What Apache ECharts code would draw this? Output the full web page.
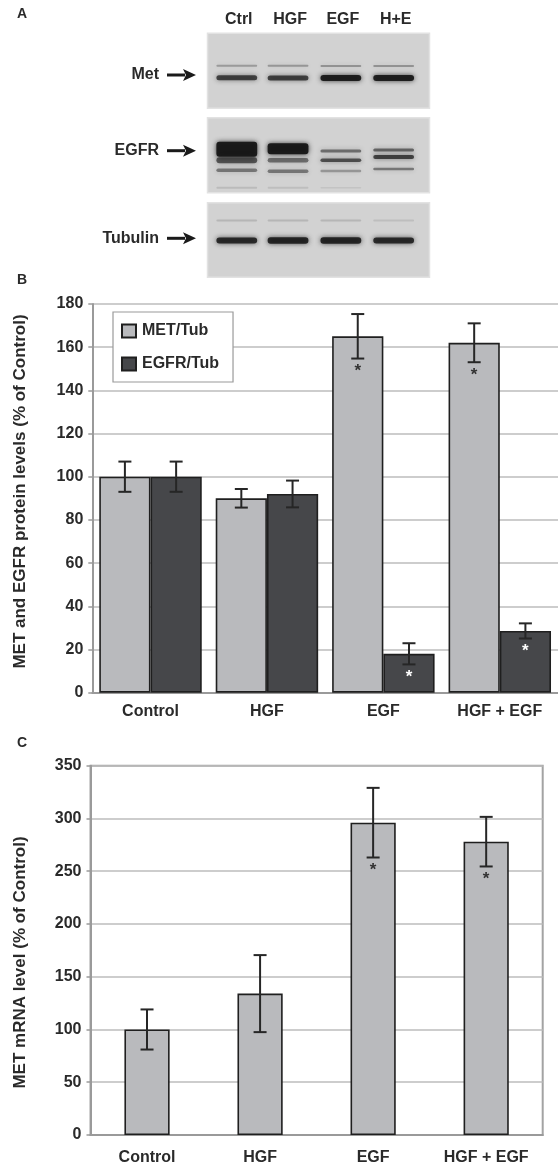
<!DOCTYPE html>
<html>
<head>
<meta charset="utf-8">
<script src="https://cdn.jsdelivr.net/npm/echarts@6/dist/echarts.min.js"></script>
<style>
html,body{margin:0;padding:0;background:#fff;}
#chart{width:558px;height:1166px;}
</style>
</head>
<body>
<div id="chart"></div>
<script>
// ---------- DATA ----------
const categories = ['Control', 'HGF', 'EGF', 'HGF + EGF'];
const metProtein = [100, 90, 165, 162];
const metProteinErr = [7, 4.3, 10.3, 9];
const egfrProtein = [100, 92, 18, 28.6];
const egfrProteinErr = [7, 6.2, 4.9, 3.5];
const metMrna = [100, 134, 296, 278];
const metMrnaErr = [19, 36.5, 33, 23.5];
const significant = [0, 0, 1, 1];
const proteinTicks = [0, 180, 20];
const mrnaTicks = [0, 350, 50];
const proteinTitle = 'MET and EGFR protein levels (% of Control)';
const mrnaTitle = 'MET mRNA level (% of Control)';

// western blot: lanes and bands [lane, migration, thickness, intensity]
const lanes = ['Ctrl', 'HGF', 'EGF', 'H+E'];
const lanePos = [0.56, 1.54, 2.55, 3.56];
const metBands = [
  [0, 32.4, 2, 0.28], [1, 32.4, 2, 0.30], [2, 32.6, 2, 0.32], [3, 32.6, 2, 0.32],
  [0, 44.4, 5, 0.72], [1, 44.6, 5, 0.72], [2, 44.6, 6, 0.92], [3, 44.6, 6, 0.92]
];
const egfrBands = [
  [0, 31.5, 15, 0.95], [0, 42.5, 6, 0.62], [0, 52.5, 3.5, 0.45], [0, 70, 2, 0.12],
  [1, 31, 11, 0.95], [1, 42.5, 4.5, 0.5], [1, 53.5, 3.5, 0.45], [1, 70, 2, 0.1],
  [2, 33.3, 3, 0.5], [2, 42.6, 3.5, 0.65], [2, 53.3, 2.5, 0.3], [2, 70, 1.5, 0.08],
  [3, 32.3, 3, 0.55], [3, 39.3, 4, 0.72], [3, 51.3, 2.5, 0.45]
];
const tubBands = [
  [0, 18, 2, 0.14], [1, 18, 2, 0.14], [2, 18, 2, 0.14], [3, 18, 2, 0.1],
  [0, 38, 6, 0.85], [1, 38, 6.5, 0.88], [2, 38, 6.5, 0.88], [3, 38, 6, 0.85]
];
const blotLabels = ['Met', 'EGFR', 'Tubulin'];

// ---------- STYLE ----------
const FONT = "'Liberation Sans', Arial, Helvetica, sans-serif";
const TXT = '#2a2a2a';
const LIGHT = '#b9babd';
const DARK = '#46474a';
const EDGE = '#1f1f1f';

const chart = echarts.init(document.getElementById('chart'), null, {renderer: 'canvas'});

function blotGrid(top, h) {
  return {left: 207.5, top: top, width: 222, height: h, show: true,
    backgroundColor: '#d2d2d2', borderColor: '#e2e2e2', borderWidth: 1.5};
}
function hiddenX(gi) { return {type: 'value', gridIndex: gi, min: 0, max: 4.245, show: false}; }
function hiddenY(gi) { return {type: 'value', gridIndex: gi, min: 0, max: 75, inverse: true, show: false}; }

function bandSeries(gi, bands) {
  return {
    type: 'custom', xAxisIndex: gi, yAxisIndex: gi, silent: true,
    data: bands.map(b => [lanePos[b[0]], b[1], b[2], b[3]]),
    encode: {x: 0, y: 1},
    renderItem: function (params, api) {
      const c = api.coord([api.value(0), api.value(1)]);
      const w = api.size([0.78, 0])[0];
      const h = api.size([0, api.value(2)])[1];
      const a = api.value(3);
      return {
        type: 'rect',
        shape: {x: c[0] - w / 2, y: c[1] - h / 2, width: w, height: h, r: Math.min(h / 2, 3)},
        style: {fill: 'rgba(22,22,22,' + a + ')', shadowBlur: 5, shadowColor: 'rgba(22,22,22,' + (a * 0.9) + ')'}
      };
    }
  };
}

function errSeries(xi, values, errs, offsetFrac, starColor) {
  return {
    type: 'custom', xAxisIndex: xi, yAxisIndex: xi, z: 10, silent: true,
    data: values.map((v, i) => [i, v, errs[i], significant[i]]),
    encode: {x: 0, y: 1},
    renderItem: function (params, api) {
      const i = api.value(0), v = api.value(1), e = api.value(2), s = api.value(3);
      const band = api.size([1, 0])[0];
      const dx = band * offsetFrac;
      const t = api.coord([i, v + e]);
      const b = api.coord([i, v - e]);
      const x = t[0] + dx;
      const cap = 6.5;
      const ls = {stroke: '#262626', lineWidth: 2};
      const children = [
        {type: 'line', shape: {x1: x, y1: t[1], x2: x, y2: b[1]}, style: ls},
        {type: 'line', shape: {x1: x - cap, y1: t[1], x2: x + cap, y2: t[1]}, style: ls},
        {type: 'line', shape: {x1: x - cap, y1: b[1], x2: x + cap, y2: b[1]}, style: ls}
      ];
      if (s) {
        children.push({type: 'text', style: {text: '*', x: x, y: b[1] + 13, align: 'center', verticalAlign: 'middle',
          fill: starColor, font: 'bold 17px ' + FONT}});
      }
      return {type: 'group', children: children};
    }
  };
}

const axisLabelStyle = {color: TXT, fontFamily: FONT, fontWeight: 'bold', fontSize: 16};

const option = {
  animation: false,
  backgroundColor: '#fff',
  textStyle: {fontFamily: FONT},
  grid: [
    blotGrid(33.3, 75),
    blotGrid(117.7, 75),
    blotGrid(202.7, 74.6),
    {left: 92.3, top: 303.9, width: 471, height: 388.8, show: false},
    {left: 90.5, top: 765.7, width: 452.2, height: 370.3, show: true, borderColor: '#a3a3a3', borderWidth: 2}
  ],
  xAxis: [
    hiddenX(0), hiddenX(1), hiddenX(2),
    {type: 'category', gridIndex: 3, data: categories,
      axisLine: {lineStyle: {color: '#9a9a9a', width: 2}},
      axisTick: {length: 5, lineStyle: {color: '#9a9a9a', width: 1.5}},
      axisLabel: Object.assign({margin: 11}, axisLabelStyle)},
    {type: 'category', gridIndex: 4, data: categories,
      axisLine: {lineStyle: {color: '#9a9a9a', width: 2}},
      axisTick: {length: 5, lineStyle: {color: '#9a9a9a', width: 1.5}},
      axisLabel: Object.assign({margin: 15}, axisLabelStyle)}
  ],
  yAxis: [
    hiddenY(0), hiddenY(1), hiddenY(2),
    {type: 'value', gridIndex: 3, min: proteinTicks[0], max: proteinTicks[1], interval: proteinTicks[2],
      axisLine: {show: true, lineStyle: {color: '#9a9a9a', width: 2}},
      axisTick: {show: true, length: 4, lineStyle: {color: '#9a9a9a', width: 1.5}},
      axisLabel: Object.assign({margin: 9}, axisLabelStyle),
      splitLine: {lineStyle: {color: '#bdbdbd', width: 1.5}}},
    {type: 'value', gridIndex: 4, min: mrnaTicks[0], max: mrnaTicks[1], interval: mrnaTicks[2],
      axisLine: {show: true, lineStyle: {color: '#9a9a9a', width: 2}},
      axisTick: {show: true, length: 4, lineStyle: {color: '#9a9a9a', width: 1.5}},
      axisLabel: Object.assign({margin: 9}, axisLabelStyle),
      splitLine: {lineStyle: {color: '#bdbdbd', width: 1.5}}}
  ],
  legend: {
    data: ['MET/Tub', 'EGFR/Tub'], orient: 'vertical', left: 113, top: 312,
    padding: [11, 14, 10, 8], itemGap: 17, itemWidth: 14, itemHeight: 13, icon: 'rect',
    backgroundColor: '#fff', borderColor: '#9a9a9a', borderWidth: 1.2,
    textStyle: {color: TXT, fontFamily: FONT, fontWeight: 'bold', fontSize: 16, padding: [0, 0, 0, 1]},
    selectedMode: false
  },
  graphic: [],
  series: [
    bandSeries(0, metBands),
    bandSeries(1, egfrBands),
    bandSeries(2, tubBands),
    {
      type: 'custom', xAxisIndex: 0, yAxisIndex: 0, silent: true,
      data: lanes.map((n, i) => [lanePos[i], 0]),
      encode: {x: 0, y: 1},
      renderItem: function (params, api) {
        const c = api.coord([api.value(0), 0]);
        return {type: 'text', style: {text: lanes[params.dataIndex], x: c[0] + 2, y: c[1] - 14,
          align: 'center', verticalAlign: 'middle', fill: TXT, font: 'bold 16px ' + FONT}};
      }
    },
    {name: 'MET/Tub', type: 'bar', xAxisIndex: 3, yAxisIndex: 3, data: metProtein,
      barGap: '0%', barCategoryGap: '12%',
      itemStyle: {color: LIGHT, borderColor: EDGE, borderWidth: 1.6}},
    {name: 'EGFR/Tub', type: 'bar', xAxisIndex: 3, yAxisIndex: 3, data: egfrProtein,
      barGap: '0%', barCategoryGap: '12%',
      itemStyle: {color: DARK, borderColor: EDGE, borderWidth: 1.6}},
    errSeries(3, metProtein, metProteinErr, -0.22, '#333'),
    errSeries(3, egfrProtein, egfrProteinErr, 0.22, '#ffffff'),
    {name: 'MET mRNA', type: 'bar', xAxisIndex: 4, yAxisIndex: 4, data: metMrna,
      barCategoryGap: '60%',
      itemStyle: {color: LIGHT, borderColor: EDGE, borderWidth: 1.6}},
    errSeries(4, metMrna, metMrnaErr, 0, '#333')
  ]
};

// axis titles (rotated)
[[proteinTitle, 491.5], [mrnaTitle, 962.5]].forEach(t => option.graphic.push({
  type: 'text', x: 20, y: t[1], rotation: Math.PI / 2,
  style: {text: t[0], align: 'center', verticalAlign: 'middle', fill: TXT, font: 'bold 17px ' + FONT}
}));
// panel letters, blot row labels with arrows
const panelLetters = [['A', 15], ['B', 281], ['C', 744]];
panelLetters.forEach(p => option.graphic.push({type: 'text', left: 17, top: p[1] - 8,
  style: {text: p[0], fill: TXT, font: 'bold 14px ' + FONT}}));
const rowY = [75, 150.7, 238.3];
blotLabels.forEach((lab, i) => {
  const y = rowY[i];
  option.graphic.push({type: 'text', x: 159, y: y, style: {text: lab, align: 'right', verticalAlign: 'middle',
    fill: TXT, font: 'bold 16px ' + FONT}});
  option.graphic.push({type: 'rect', shape: {x: 167, y: y - 1.5, width: 18, height: 3}, style: {fill: '#1a1a1a'}});
  option.graphic.push({type: 'polygon', shape: {points: [[183, y - 6], [196, y], [183, y + 6], [186, y]]}, style: {fill: '#1a1a1a'}});
});

chart.setOption(option);
</script>
</body>
</html>
